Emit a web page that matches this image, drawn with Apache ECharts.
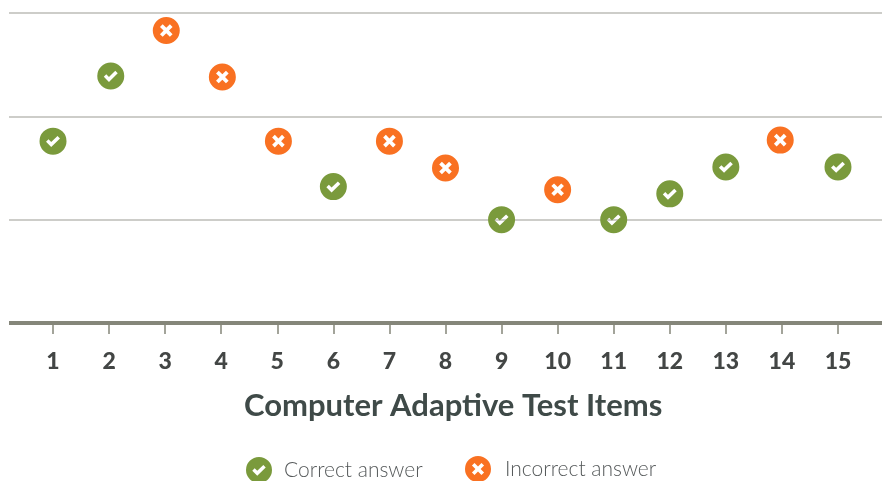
<!DOCTYPE html>
<html>
<head>
<meta charset="utf-8">
<script src="https://cdn.jsdelivr.net/npm/echarts@6/dist/echarts.min.js"></script>
<style>
  html, body { margin: 0; padding: 0; background: #fff; }
  #chart { width: 882px; height: 481px; }
</style>
</head>
<body>
<div id="chart"></div>
<script>
const items = [1, 2, 3, 4, 5, 6, 7, 8, 9, 10, 11, 12, 13, 14, 15];
// some marks sit a pixel or two beside their tick
const correctItems = [1, 2.03, 6, 9, 11, 12, 13, 15];
const correctValues = [1.76, 2.39, 1.32, 1.0, 1.0, 1.25, 1.51, 1.51];
const incorrectItems = [3.02, 4.02, 5.02, 7, 8, 10, 13.97];
const incorrectValues = [2.83, 2.38, 1.76, 1.76, 1.5, 1.29, 1.77];

const circle = "M12 0A12 12 0 1 1 12 24A12 12 0 1 1 12 0Z";
// the marks are cut out of the disc, drawn the other way round
const checkIcon = "path://" + circle + "M5.8 12.6L10.4 17.2L18.2 9.6L16 7.4L10.4 12.8L8 10.4Z";
const crossIcon = "path://" + circle + "M6.4 8.8L9.6 12L6.4 15.2L8.8 17.6L12 14.4L15.2 17.6L17.6 15.2L14.4 12L17.6 8.8L15.2 6.4L12 9.6L8.8 6.4Z";

const green = "#7a9a3c";
const orange = "#f97122";
const font = "Lato";

function pairs(xs, ys) {
  return xs.map((x, i) => [x, ys[i]]);
}

const legendText = { fontFamily: font, fontSize: 21, fontWeight: 300, color: "#55595a" };

const chart = echarts.init(document.getElementById("chart"));
chart.setOption({
  animation: false,
  backgroundColor: "#fff",
  title: {
    text: "Computer Adaptive Test Items",
    left: 244,
    top: 390,
    padding: 0,
    textStyle: { fontFamily: font, fontWeight: "bold", fontSize: 31, color: "#3f4a48" }
  },
  legend: [
    {
      data: ["Correct answer"],
      left: 246,
      top: 457,
      padding: 0,
      itemWidth: 26,
      itemHeight: 26,
      itemGap: 0,
      textStyle: Object.assign({ padding: [2, 0, 0, 7] }, legendText)
    },
    {
      data: ["Incorrect answer"],
      left: 465,
      top: 456,
      padding: 0,
      itemWidth: 26,
      itemHeight: 26,
      itemGap: 0,
      textStyle: Object.assign({ padding: [1, 0, 0, 9] }, legendText)
    }
  ],
  grid: { left: 9, right: 0, top: 13, bottom: 158 },
  xAxis: {
    type: "value",
    min: 0.215,
    max: 15.785,
    splitLine: { show: false },
    axisLine: { show: true, onZero: false, lineStyle: { color: "#85867a", width: 4, cap: "butt" } },
    axisTick: { show: true, customValues: items, length: 11, lineStyle: { color: "#85867a", width: 1.5 } },
    axisLabel: {
      customValues: items,
      margin: 27,
      fontFamily: font,
      fontWeight: 900,
      fontSize: 23,
      color: "#434645",
      formatter: "{value}"
    }
  },
  yAxis: {
    type: "value",
    min: 0,
    max: 3,
    interval: 1,
    axisLine: { show: false },
    axisTick: { show: false },
    axisLabel: { show: false },
    splitLine: { lineStyle: { color: "#bdbdb7", width: 1.5 } }
  },
  series: [
    {
      name: "Correct answer",
      type: "scatter",
      data: pairs(correctItems, correctValues),
      symbol: checkIcon,
      symbolSize: 27,
      itemStyle: { color: green, opacity: 1 }
    },
    {
      name: "Incorrect answer",
      type: "scatter",
      data: pairs(incorrectItems, incorrectValues),
      symbol: crossIcon,
      symbolSize: 27,
      itemStyle: { color: orange, opacity: 1 }
    }
  ]
});
</script>
</body>
</html>
